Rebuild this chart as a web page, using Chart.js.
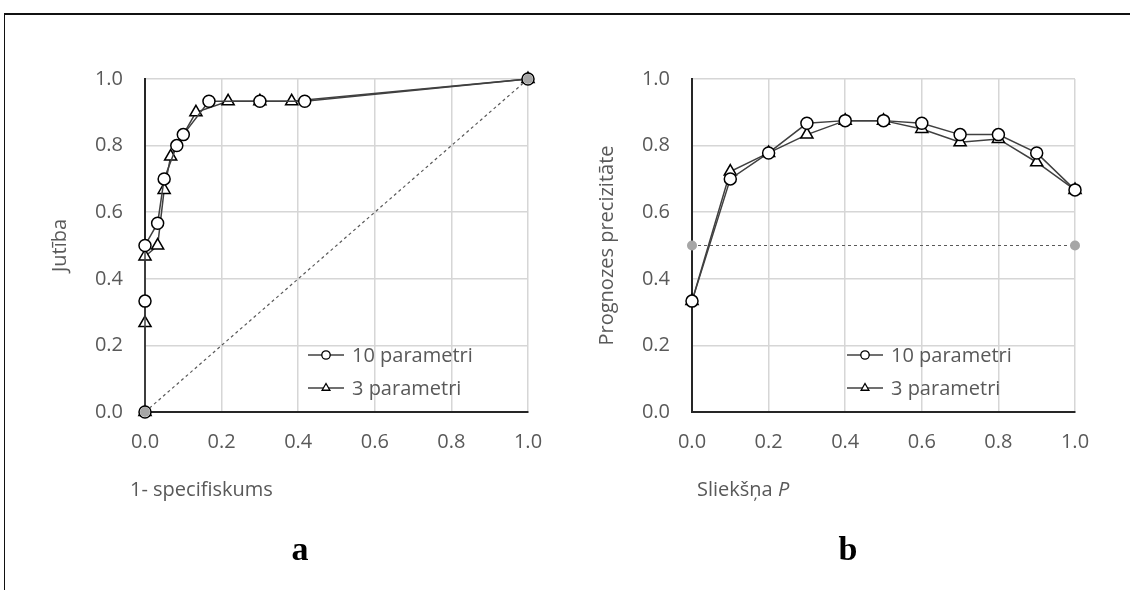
<!DOCTYPE html>
<html lang="lv">
<head>
<meta charset="UTF-8">
<title>Jutība un prognozes precizitāte</title>
<script src="https://cdn.jsdelivr.net/npm/chart.js@4.4.1/dist/chart.umd.min.js"></script>
<style>
    body { margin: 0; background: #fff; }
    .page { position: relative; width: 1130px; height: 590px; overflow: hidden; }
    .frame {
        position: absolute; left: 4px; top: 13px; right: -4px; bottom: -4px;
        border-top: 2px solid #111; border-left: 1px solid #111;
    }
    .panel { position: absolute; top: 0; width: 565px; height: 590px; }
    .letter {
        position: absolute; top: 530px; width: 60px; text-align: center;
        font: bold 34px 'Liberation Serif', 'Times New Roman', serif; color: #000;
    }
</style>
</head>
<body>
<div class="page">
    <div class="frame"></div>
    <div class="panel" style="left:0"><canvas id="rocChart"></canvas></div>
    <div class="panel" style="left:565px"><canvas id="precChart"></canvas></div>
    <div class="letter" style="left:270px">a</div>
    <div class="letter" style="left:818px">b</div>
</div>

<script>
    // a: ROC liknes (1- specifiskums, jutība)
    const roc10X = [0, 0, 0, 0.033, 0.05, 0.083, 0.1, 0.167, 0.3, 0.417, 1];
    const roc10Y = [0, 0.333, 0.5, 0.567, 0.7, 0.8, 0.833, 0.933, 0.933, 0.933, 1];
    const roc3X = [0, 0, 0, 0.033, 0.05, 0.067, 0.133, 0.217, 0.3, 0.383, 1];
    const roc3Y = [0, 0.267, 0.467, 0.5, 0.667, 0.767, 0.9, 0.933, 0.933, 0.933, 1];
    const rocRefX = [0, 1];
    const rocRefY = [0, 1];

    // b: prognozes precizitāte pret slieksni P
    const thresholds = [0, 0.1, 0.2, 0.3, 0.4, 0.5, 0.6, 0.7, 0.8, 0.9, 1];
    const prec10 = [0.333, 0.7, 0.778, 0.867, 0.875, 0.875, 0.867, 0.833, 0.833, 0.778, 0.667];
    const prec3 = [0.333, 0.722, 0.778, 0.833, 0.875, 0.875, 0.85, 0.81, 0.82, 0.75, 0.667];
    const precRefX = [0, 1];
    const precRefY = [0.5, 0.5];

    const axisTicks = [0, 0.2, 0.4, 0.6, 0.8, 1];
    const seriesNames = ['10 parametri', '3 parametri'];

    const FONT_FAMILY = "'Open Sans', sans-serif";
    const FONT_SIZE = 20;
    const TEXT = '#595959';
    const LINE = '#404040';

    const pts = (xs, ys) => xs.map((x, i) => ({ x: x, y: ys[i] }));

    function refSet(xs, ys) {
        return {
            data: pts(xs, ys), borderColor: '#595959', borderWidth: 1.2, borderDash: [3, 3],
            pointRadius: 5, pointBackgroundColor: '#a6a6a6', pointBorderColor: '#a6a6a6',
            pointBorderWidth: 0, clip: false, inLegend: false
        };
    }

    function seriesSet(name, xs, ys, style) {
        return {
            label: name, data: pts(xs, ys), borderColor: LINE, borderWidth: 1.5,
            pointStyle: style, pointRadius: style === 'triangle' ? 7 : 6,
            pointBackgroundColor: '#fff', pointBorderColor: '#000', pointBorderWidth: 1.5,
            clip: false, inLegend: true
        };
    }

    // axis titles and legend drawn by hand
    const decor = {
        id: 'decor',
        afterDraw(chart, args, o) {
            const ctx = chart.ctx, a = chart.chartArea;
            const font = FONT_SIZE + 'px ' + FONT_FAMILY;
            ctx.save();
            ctx.fillStyle = TEXT;
            ctx.font = font;
            ctx.textBaseline = 'middle';

            ctx.save();
            ctx.translate(a.left + o.yTitleDx, (a.top + a.bottom) / 2);
            ctx.rotate(-Math.PI / 2);
            ctx.textAlign = 'center';
            ctx.fillText(o.yTitle, 0, 0);
            ctx.restore();

            ctx.textAlign = 'left';
            let x = a.left + o.xTitleDx;
            o.xTitle.forEach(p => {
                ctx.font = (p.italic ? 'italic ' : '') + font;
                ctx.fillText(p.text, x, o.xTitleY);
                x += ctx.measureText(p.text).width;
            });

            ctx.font = font;
            let row = 0;
            chart.data.datasets.forEach(ds => {
                if (!ds.inLegend) return;
                const y = a.bottom + o.legendDy[row];
                const lx = a.left + o.legendDx;
                ctx.strokeStyle = LINE;
                ctx.lineWidth = 1.5;
                ctx.beginPath();
                ctx.moveTo(lx, y);
                ctx.lineTo(lx + 36, y);
                ctx.stroke();
                ctx.fillStyle = '#fff';
                ctx.strokeStyle = '#000';
                ctx.lineWidth = 1.3;
                Chart.helpers.drawPoint(ctx, {
                    pointStyle: ds.pointStyle, radius: ds.pointStyle === 'triangle' ? 4.5 : 4.2,
                    rotation: 0, borderWidth: 1.3
                }, lx + 18, y);
                ctx.fillStyle = TEXT;
                ctx.fillText(ds.label, lx + 44, y + 1);
                row++;
            });
            ctx.restore();
        }
    };

    function makeChart(id, datasets, plotLeft, plotRight, decorOpts) {
        const W = 565, H = 590, top = 79, bottom = 412;
        return new Chart(document.getElementById(id), {
            type: 'line',
            data: { datasets: datasets },
            options: {
                responsive: false,
                animation: false,
                events: [],
                layout: { padding: { left: 0, top: top, right: W - plotRight, bottom: 0 } },
                scales: {
                    x: {
                        type: 'linear', min: 0, max: 1,
                        afterBuildTicks: s => { s.ticks = axisTicks.map(v => ({ value: v })); },
                        afterFit: s => { s.height = H - bottom; },
                        grid: { color: '#d6d6d6', lineWidth: 1.5, drawTicks: false },
                        border: { display: true, color: '#262626', width: 2 },
                        ticks: {
                            padding: 18, color: TEXT, maxRotation: 0,
                            font: { family: FONT_FAMILY, size: FONT_SIZE },
                            callback: v => v.toFixed(1)
                        }
                    },
                    y: {
                        type: 'linear', min: 0, max: 1,
                        afterBuildTicks: s => { s.ticks = axisTicks.map(v => ({ value: v })); },
                        afterFit: s => { s.width = plotLeft; },
                        grid: { color: '#d6d6d6', lineWidth: 1.5, drawTicks: false },
                        border: { display: true, color: '#262626', width: 2 },
                        ticks: {
                            padding: 22, color: TEXT,
                            font: { family: FONT_FAMILY, size: FONT_SIZE },
                            callback: v => v.toFixed(1)
                        }
                    }
                },
                plugins: { legend: { display: false }, tooltip: { enabled: false }, decor: decorOpts }
            },
            plugins: [decor]
        });
    }

    document.querySelectorAll('canvas').forEach(c => { c.width = 565; c.height = 590; });

    makeChart('rocChart', [
        refSet(rocRefX, rocRefY),
        seriesSet(seriesNames[0], roc10X, roc10Y, 'circle'),
        seriesSet(seriesNames[1], roc3X, roc3Y, 'triangle')
    ], 145, 528, {
        yTitle: 'Jutība', yTitleDx: -85,
        xTitle: [{ text: '1- specifiskums' }], xTitleDx: -15, xTitleY: 490,
        legendDx: 163, legendDy: [-57, -24]
    });

    makeChart('precChart', [
        refSet(precRefX, precRefY),
        seriesSet(seriesNames[0], thresholds, prec10, 'circle'),
        seriesSet(seriesNames[1], thresholds, prec3, 'triangle')
    ], 127, 510, {
        yTitle: 'Prognozes precizitāte', yTitleDx: -85,
        xTitle: [{ text: 'Sliekšņa ' }, { text: 'P', italic: true }], xTitleDx: 5, xTitleY: 490,
        legendDx: 155, legendDy: [-57, -24]
    });
</script>
</body>
</html>
